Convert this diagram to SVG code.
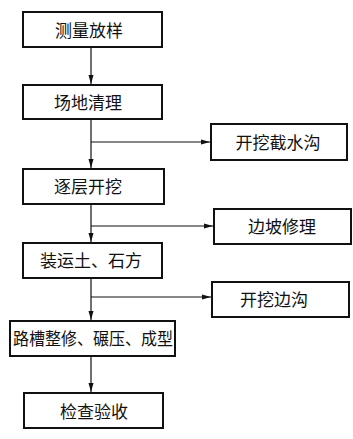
<svg xmlns="http://www.w3.org/2000/svg" width="353" height="439" viewBox="0 0 353 439">
<style>
.box{fill:#fff;stroke:#111;stroke-width:2}
.t{font-family:"Noto Sans CJK SC","Noto Sans",sans-serif;font-size:17px;fill:#111;text-anchor:middle}
.ln{stroke:#111;stroke-width:1.2;fill:none}
</style>
<defs>
<marker id="ah" markerWidth="10" markerHeight="6" refX="9" refY="3" orient="auto" markerUnits="userSpaceOnUse">
<path d="M0,0.5 L9,3 L0,5.5 Z" fill="#111"/>
</marker>
</defs>
<rect width="353" height="439" fill="#fff"/>
<g id="connectors">
<line class="ln" x1="91" y1="48" x2="91" y2="84" marker-end="url(#ah)"/>
<line class="ln" x1="91" y1="120" x2="91" y2="168" marker-end="url(#ah)"/>
<line class="ln" x1="91" y1="142" x2="210" y2="142" marker-end="url(#ah)"/>
<line class="ln" x1="91" y1="205" x2="91" y2="242" marker-end="url(#ah)"/>
<line class="ln" x1="91" y1="226" x2="213" y2="226" marker-end="url(#ah)"/>
<line class="ln" x1="91" y1="279" x2="91" y2="320" marker-end="url(#ah)"/>
<line class="ln" x1="91" y1="297" x2="211" y2="297" marker-end="url(#ah)"/>
<line class="ln" x1="91" y1="357" x2="91" y2="392" marker-end="url(#ah)"/>
</g>
<g id="n1"><rect class="box" x="23" y="12" width="139" height="35"/><text class="t" x="89" y="37">测量放样</text></g>
<g id="n2"><rect class="box" x="23" y="85" width="139" height="34"/><text class="t" x="88" y="109">场地清理</text></g>
<g id="n3"><rect class="box" x="211" y="124" width="136" height="36"/><text class="t" x="278" y="149">开挖截水沟</text></g>
<g id="n4"><rect class="box" x="23" y="169" width="141" height="35"/><text class="t" x="88" y="193">逐层开挖</text></g>
<g id="n5"><rect class="box" x="214" y="209" width="137" height="35"/><text class="t" x="282" y="233">边坡修理</text></g>
<g id="n6"><rect class="box" x="23" y="243" width="139" height="35"/><text class="t" x="91" y="267">装运土、石方</text></g>
<g id="n7"><rect class="box" x="212" y="282" width="137" height="35"/><text class="t" x="274" y="306">开挖边沟</text></g>
<g id="n8"><rect class="box" x="10" y="321" width="165" height="35"/><text class="t" x="93" y="345" textLength="160" lengthAdjust="spacingAndGlyphs">路槽整修、碾压、成型</text></g>
<g id="n9"><rect class="box" x="24" y="393" width="139" height="35"/><text class="t" x="94" y="418">检查验收</text></g>
</svg>
